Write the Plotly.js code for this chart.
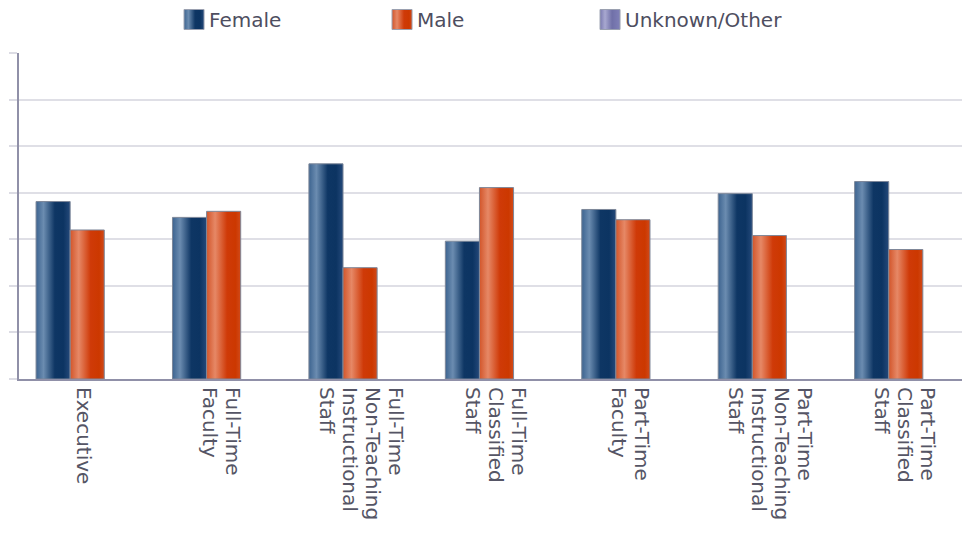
<!DOCTYPE html>
<html><head><meta charset="utf-8">
<script src="https://cdn.plot.ly/plotly-3.0.1.min.js"></script>
<style>html,body{margin:0;padding:0;background:#fff}</style>
</head><body>
<div id="chart" style="width:962px;height:543px"></div>
<script>
// ---- data ----
const categories = ["Executive", "Full-Time<br>Faculty", "Full-Time<br>Non-Teaching<br>Instructional<br>Staff",
  "Full-Time<br>Classified<br>Staff", "Part-Time<br>Faculty", "Part-Time<br>Non-Teaching<br>Instructional<br>Staff",
  "Part-Time<br>Classified<br>Staff"];
const seriesNames = ["Female", "Male", "Unknown/Other"];
const female = [38.1, 34.7, 46.2, 29.6, 36.4, 39.8, 42.4];
const male = [32.0, 36.0, 23.9, 41.1, 34.2, 30.8, 27.8];
const unknown = [0, 0, 0, 0, 0, 0, 0];

// ---- styles ----
const baseColors = ["#1d4270", "#d0461a", "#8585b5"];
const gradients = {
  gF: [["0%", "#3d6490"], ["22%", "#6b8cb0"], ["55%", "#0e3664"], ["80%", "#0c3462"], ["100%", "#24497a"]],
  gM: [["0%", "#d2552a"], ["25%", "#e68866"], ["60%", "#cf3a08"], ["85%", "#cc3800"], ["100%", "#d14a1a"]],
  gU: [["0%", "#7a7ab0"], ["25%", "#a8a8d0"], ["60%", "#7070a8"], ["100%", "#8080b8"]]
};
const gradIds = ["gF", "gM", "gU"];
const values = [female, male, unknown];

const traces = seriesNames.map((name, i) => ({
  type: "bar",
  name: name,
  x: categories,
  y: values[i],
  marker: {color: baseColors[i], line: {color: i === 2 ? "rgba(0,0,0,0)" : "#7d8799", width: i === 2 ? 0 : 1}},
  hoverinfo: "x+y+name"
}));

const font = "DejaVu Sans, Verdana, sans-serif";
const layout = {
  width: 962, height: 543,
  margin: {l: 19, r: 0, t: 50, b: 164, pad: 0},
  paper_bgcolor: "#ffffff", plot_bgcolor: "#ffffff",
  barmode: "group", bargap: 0.25, bargroupgap: 0,
  showlegend: true,
  legend: {orientation: "h", x: 0.1591, xanchor: "left", y: 1.164, yanchor: "top",
    entrywidth: 163, font: {family: font, size: 20, color: "#4e4e60"}, bgcolor: "rgba(0,0,0,0)"},
  xaxis: {type: "category", range: [-0.5, 6.412], showline: true, linecolor: "#9090a8", linewidth: 2,
    ticks: "", tickangle: 90, tickfont: {family: font, size: 20, color: "#555565"}, showgrid: false,
    automargin: false, fixedrange: true},
  yaxis: {range: [0, 70], dtick: 10, tick0: 0, showticklabels: false, ticks: "outside", ticklen: 8,
    tickwidth: 2, tickcolor: "#dcdce4", showgrid: true, gridcolor: "#dfdfe6", gridwidth: 2,
    showline: true, linecolor: "#9090a8", linewidth: 2, zeroline: false, automargin: false, fixedrange: true}
};

Plotly.newPlot("chart", traces, layout, {displayModeBar: false, staticPlot: true}).then(gd => {
  const svg = gd.querySelector(".main-svg");
  let defs = svg.querySelector("defs");
  const NS = "http://www.w3.org/2000/svg";
  Object.keys(gradients).forEach(id => {
    const lg = document.createElementNS(NS, "linearGradient");
    lg.setAttribute("id", id);
    lg.setAttribute("x1", "0"); lg.setAttribute("x2", "1");
    lg.setAttribute("y1", "0"); lg.setAttribute("y2", "0");
    gradients[id].forEach(([off, col]) => {
      const s = document.createElementNS(NS, "stop");
      s.setAttribute("offset", off); s.setAttribute("stop-color", col);
      lg.appendChild(s);
    });
    defs.appendChild(lg);
  });
  gd.querySelectorAll(".barlayer .trace").forEach((t, i) => {
    t.querySelectorAll("path").forEach(p => { p.style.fill = "url(#" + gradIds[i] + ")"; });
  });
  gd.querySelectorAll(".legend .traces").forEach((t, i) => {
    t.querySelectorAll(".legendpoints path").forEach(p => {
      p.setAttribute("d", "M15,10H-5V-10H15Z");
      p.style.fill = "url(#" + gradIds[i] + ")";
      p.style.stroke = "#9aa0b0"; p.style.strokeWidth = "1px";
    });
  });
  // tighter line spacing for multi-line category labels, small nudge to match
  gd.querySelectorAll(".xtick text").forEach(tx => {
    tx.querySelectorAll("tspan.line").forEach(ts => {
      const dy = ts.getAttribute("dy");
      if (dy && dy.indexOf("em") > 0) {
        const v = parseFloat(dy);
        if (v > 0) ts.setAttribute("dy", (v * 1.15 / 1.3).toFixed(3) + "em");
      }
    });
    const tr = tx.getAttribute("transform") || "";
    tx.setAttribute("transform", "translate(-4,2) " + tr);
  });
});
</script>
</body></html>
